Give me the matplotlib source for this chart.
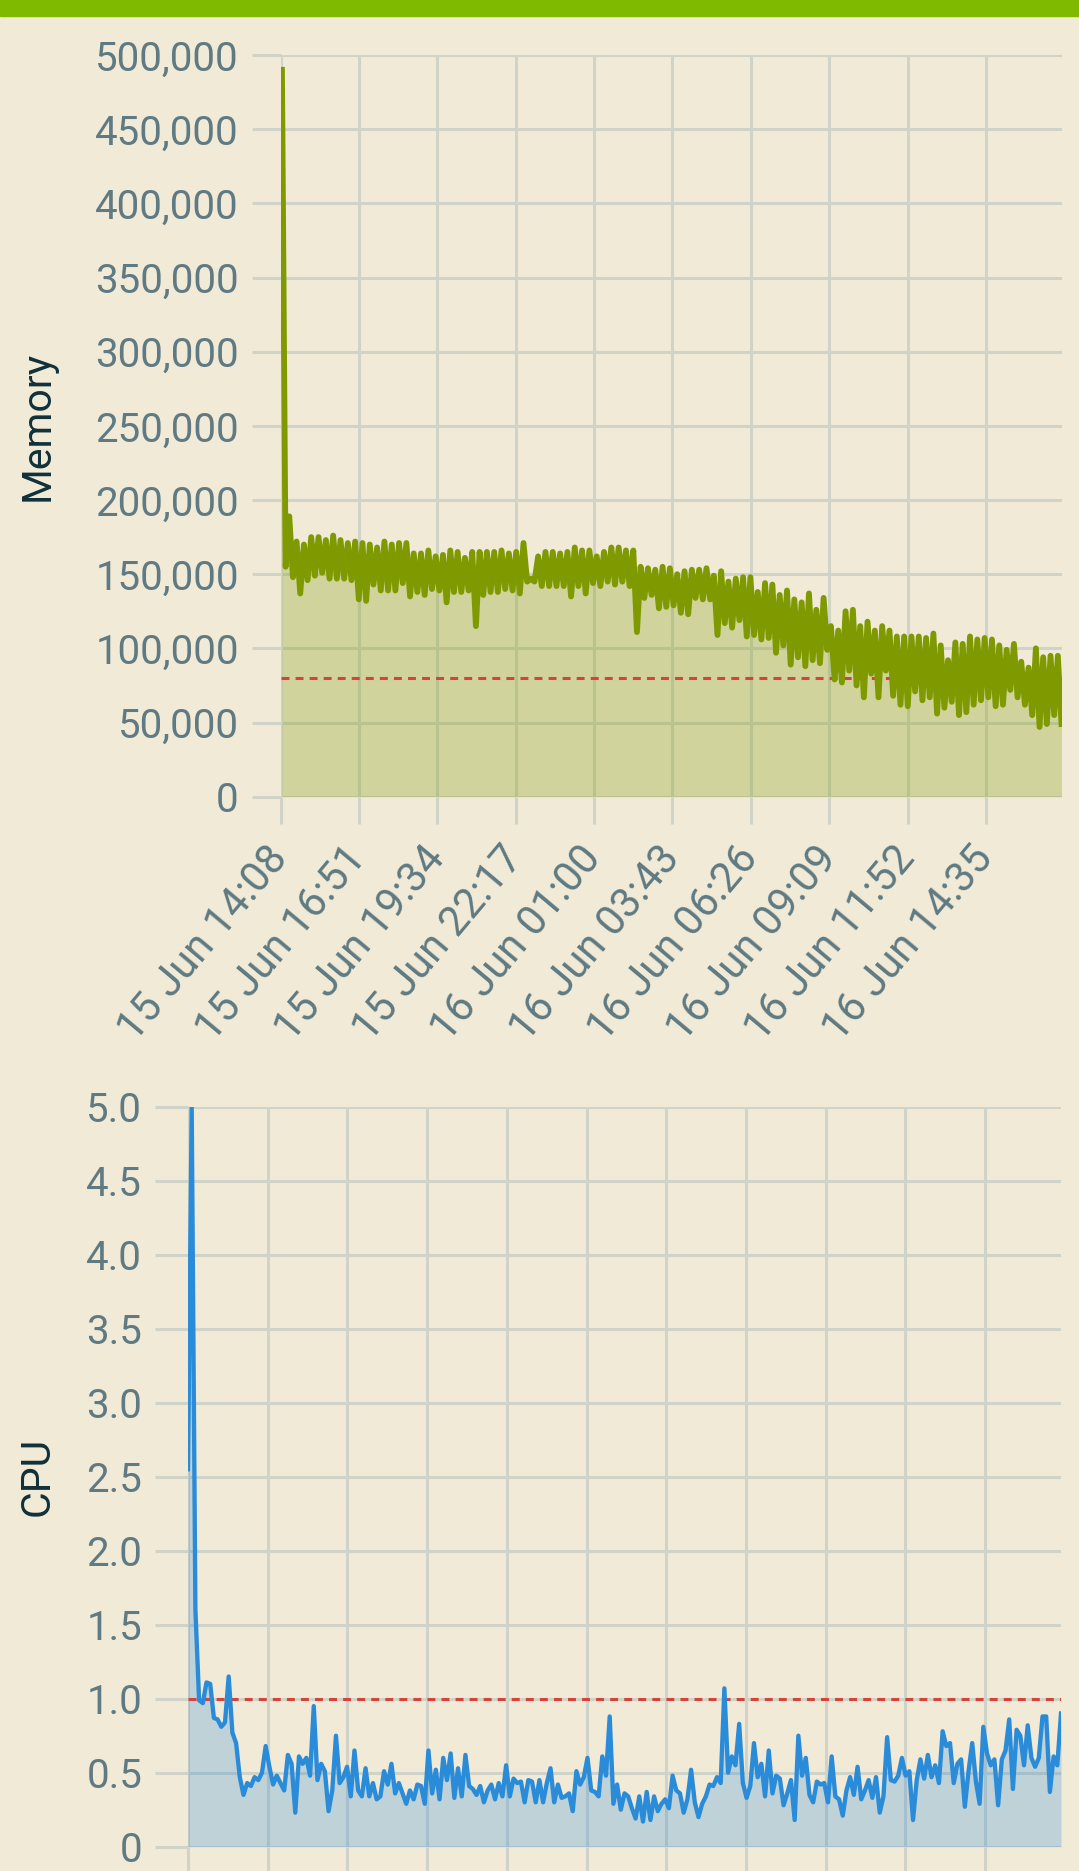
import matplotlib
matplotlib.use('Agg')
import matplotlib.pyplot as plt
import pandas as pd
from matplotlib.patches import Rectangle
from matplotlib.ticker import FuncFormatter

plt.rcParams['font.family'] = ['Roboto', 'DejaVu Sans']

# ---------------- data ----------------
memory = [
    490000, 155000, 189000, 148000, 172000, 137000, 170000, 146000, 175000, 149000,
    175000, 151000, 173000, 147000, 176000, 147000, 173000, 147000, 171000, 146000,
    172000, 133000, 171000, 132000, 170000, 143000, 168000, 139000, 172000, 139000,
    170000, 139000, 171000, 144000, 171000, 135000, 164000, 138000, 164000, 136000,
    166000, 140000, 162000, 139000, 163000, 131000, 166000, 138000, 165000, 138000,
    161000, 139000, 165000, 115000, 165000, 136000, 165000, 138000, 165000, 138000,
    166000, 140000, 164000, 139000, 165000, 137000, 171000, 145000, 147000, 145000,
    162000, 142000,
    165000, 142000, 165000, 142000, 164000, 142000, 165000, 135000, 168000, 142000,
    166000, 137000, 166000, 144000, 162000, 142000, 165000, 145000, 168000, 143000,
    168000, 145000, 166000, 142000, 166000, 111000, 155000, 134000, 154000, 136000,
    153000, 127000, 155000, 128000, 154000, 129000, 150000, 124000, 152000, 123000,
    153000, 134000, 153000, 133000, 154000, 133000, 149000, 109000, 152000, 117000,
    145000, 114000, 147000, 119000, 148000, 108000, 148000, 109000, 138000, 106000,
    144000, 107000, 143000, 97000, 136000, 102000, 139000, 89000, 133000, 94000,
    131000, 88000,
    137000, 92000, 126000, 90000, 134000, 99000, 115000, 79000, 112000, 77000,
    125000, 85000, 126000, 75000, 115000, 67000, 118000, 83000, 112000, 67000,
    115000, 85000, 112000, 68000, 108000, 62000, 108000, 61000, 108000, 71000,
    108000, 65000, 107000, 67000, 110000, 56000, 102000, 60000, 92000, 64000,
    104000, 55000, 103000, 57000, 108000, 62000, 106000, 65000, 107000, 67000,
    106000, 61000, 102000, 62000, 99000, 72000, 103000, 67000, 91000, 62000,
    87000, 55000, 100000, 47000, 94000, 49000, 95000, 55000, 95000, 49000,
]

cpu = [
    2.55, 5.0, 1.6, 0.99, 0.97, 1.11, 1.10, 0.87, 0.86, 0.81, 0.84, 1.15, 0.77, 0.70,
    0.47, 0.35, 0.43, 0.41, 0.47, 0.45, 0.50, 0.68, 0.54, 0.42, 0.48, 0.43, 0.38, 0.62,
    0.56, 0.23, 0.61, 0.56, 0.60, 0.48, 0.95, 0.45, 0.56, 0.51, 0.24, 0.38, 0.75, 0.43,
    0.47, 0.54, 0.34, 0.65, 0.38, 0.34, 0.53, 0.34, 0.43, 0.32, 0.34, 0.51, 0.42, 0.56,
    0.36, 0.43, 0.36, 0.29, 0.38, 0.32, 0.42, 0.41, 0.29, 0.65, 0.36, 0.52, 0.32, 0.60,
    0.45, 0.63, 0.33, 0.53, 0.34, 0.62, 0.41, 0.39, 0.35, 0.41, 0.30, 0.38, 0.42, 0.32,
    0.43, 0.34, 0.55,
    0.34, 0.46, 0.43, 0.44, 0.30, 0.45, 0.44, 0.30, 0.45, 0.30, 0.43, 0.53, 0.30, 0.42,
    0.33, 0.34, 0.36, 0.24, 0.51, 0.42, 0.47, 0.60, 0.38, 0.37, 0.34, 0.61, 0.48, 0.88,
    0.29, 0.42, 0.25, 0.36, 0.34, 0.26, 0.19, 0.34, 0.17, 0.37, 0.18, 0.34, 0.24, 0.29,
    0.32, 0.26, 0.48, 0.38, 0.36, 0.23, 0.32, 0.52, 0.30, 0.20, 0.29, 0.34, 0.42, 0.41,
    0.47, 0.43, 1.07, 0.50, 0.61, 0.55, 0.83, 0.43, 0.33, 0.41, 0.70, 0.47, 0.56, 0.34,
    0.65, 0.36,
    0.48, 0.46, 0.28, 0.36, 0.45, 0.18, 0.75, 0.48, 0.60, 0.35, 0.30, 0.44, 0.42, 0.43,
    0.30, 0.61, 0.34, 0.32, 0.21, 0.38, 0.47, 0.35, 0.54, 0.32, 0.38, 0.45, 0.33, 0.47,
    0.23, 0.34, 0.74, 0.45, 0.44, 0.48, 0.60, 0.48, 0.51, 0.18, 0.45, 0.59, 0.46, 0.62,
    0.47, 0.55, 0.43, 0.78, 0.68, 0.70, 0.43, 0.56, 0.59, 0.27, 0.51, 0.70, 0.44, 0.29,
    0.81, 0.63, 0.55, 0.59, 0.28, 0.59, 0.65, 0.86, 0.39, 0.79, 0.75, 0.55, 0.82, 0.60,
    0.54, 0.60, 0.88, 0.88, 0.37, 0.61, 0.55, 0.90,
]

data_start = pd.Timestamp('2024-06-15 14:11')
data_end = pd.Timestamp('2024-06-16 17:12')
memory_threshold = 80000
cpu_threshold = 1.0

mem_ticks = pd.date_range('2024-06-15 14:08', periods=10, freq='163min')
cpu_ticks = pd.date_range(data_start, periods=11, freq='148min')
mem_yticks = list(range(0, 500001, 50000))
cpu_yticks = [0, 0.5, 1.0, 1.5, 2.0, 2.5, 3.0, 3.5, 4.0, 4.5, 5.0]

mem_times = pd.date_range(data_start, data_end, periods=len(memory))
cpu_times = pd.date_range(data_start, data_end, periods=len(cpu))

# ---------------- style ----------------
W, H = 1079, 1871
BG = '#F0EAD7'
GRID = '#CFD3C8'
TICKLAB = '#5F7A82'
YLAB = '#10303A'
MEM_C = '#7F9A00'
CPU_C = '#2A8BD8'
RED = '#D8423C'

fig = plt.figure(figsize=(W / 100, H / 100), dpi=100, facecolor=BG)
fig.add_artist(Rectangle((0, 1 - 16 / H), 1, 16 / H, transform=fig.transFigure,
                         color='#80BA00', zorder=10))


def fmt_date(t):
    return f"{t.day} {t:%b} {t:%H:%M}"


def style(ax):
    ax.set_facecolor(BG)
    for s in ax.spines.values():
        s.set_visible(False)
    ax.grid(True, color=GRID, lw=2.2)
    ax.set_axisbelow(True)
    ax.tick_params(axis='both', color=GRID, width=2.2, labelsize=29,
                   labelcolor=TICKLAB)
    ax.tick_params(axis='y', length=21, pad=9)
    ax.tick_params(axis='x', length=19.5, pad=20, labelsize=30)


# Memory
ax1 = fig.add_axes([280.5 / W, 1 - 796.7 / H, 781 / W, 741.7 / H])
style(ax1)
ax1.fill_between(mem_times, memory, 0, color=MEM_C, alpha=0.28, lw=0)
ax1.plot(mem_times, memory, color=MEM_C, lw=4.2, solid_joinstyle='round', zorder=4)
ax1.axhline(memory_threshold, color=RED, lw=2.2, ls=(0, (2.6, 2.0)), zorder=3)
ax1.set_ylim(0, 500000)
ax1.set_xlim(mem_ticks[0], data_end)
ax1.set_yticks(mem_yticks)
ax1.yaxis.set_major_formatter(FuncFormatter(lambda v, p: f"{int(v):,}"))
ax1.set_xticks(mem_ticks)
ax1.set_xticklabels([fmt_date(t) for t in mem_ticks], rotation=50, ha='right',
                    va='center', rotation_mode='anchor')
fig.text(37 / W, 1 - 425.8 / H, 'Memory', rotation=90, ha='center', va='center',
         fontsize=29.5, color=YLAB)

# CPU (its date labels lie below the visible area, only tick marks show)
ax2 = fig.add_axes([188 / W, 1 - 1846.7 / H, 873 / W, 740 / H])
style(ax2)
ax2.fill_between(cpu_times, cpu, 0, color=CPU_C, alpha=0.25, lw=0)
ax2.plot(cpu_times, cpu, color=CPU_C, lw=3.1, solid_joinstyle='round', zorder=4)
ax2.axhline(cpu_threshold, color=RED, lw=2.2, ls=(0, (2.6, 2.0)), zorder=3)
ax2.set_ylim(0, 5.0)
ax2.set_xlim(data_start, data_end)
ax2.set_yticks(cpu_yticks)
ax2.yaxis.set_major_formatter(FuncFormatter(lambda v, p: '0' if v == 0 else f"{v:.1f}"))
ax2.set_xticks(cpu_ticks)
ax2.set_xticklabels([''] * len(cpu_ticks))
ax2.tick_params(axis='y', length=24)
fig.text(37 / W, 1 - 1476.7 / H, 'CPU', rotation=90, ha='center', va='center',
         fontsize=29.5, color=YLAB)

fig.savefig('out.png', dpi=100, facecolor=BG)
